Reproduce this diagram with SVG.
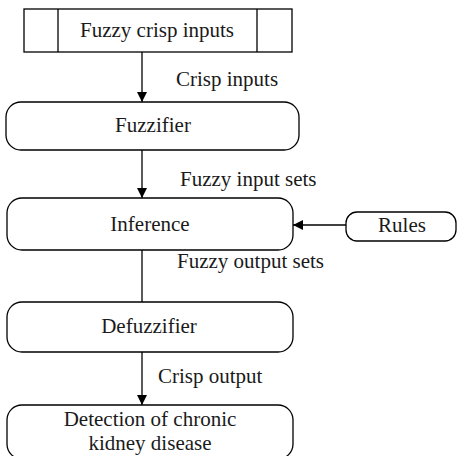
<svg xmlns="http://www.w3.org/2000/svg" width="457" height="456" viewBox="0 0 457 456">
<style>
.b{fill:#fff;stroke:#000;stroke-width:1.3}
.t{font-family:"Liberation Serif","Times New Roman",serif;font-size:21px;fill:#1a1a1a}
.c{text-anchor:middle}
.l{fill:none;stroke:#000;stroke-width:1.3}
</style>
<defs>
<marker id="ah" viewBox="0 0 10 10" refX="10" refY="5" markerWidth="10" markerHeight="10" markerUnits="userSpaceOnUse" orient="auto">
<path d="M0,0 L10,5 L0,10 Z" fill="#000"/>
</marker>
</defs>
<g id="connectors">
<line class="l" x1="142" y1="52" x2="142" y2="102" marker-end="url(#ah)"/>
<line class="l" x1="142" y1="150" x2="142" y2="198" marker-end="url(#ah)"/>
<line class="l" x1="142" y1="250" x2="142" y2="302"/>
<line class="l" x1="142" y1="352" x2="142" y2="405" marker-end="url(#ah)"/>
<line class="l" x1="346" y1="225" x2="293" y2="225" marker-end="url(#ah)"/>
<text class="t" x="176" y="86">Crisp inputs</text>
<text class="t" x="180" y="186">Fuzzy input sets</text>
<text class="t" x="177" y="268">Fuzzy output sets</text>
<text class="t" x="158" y="383">Crisp output</text>
</g>
<g id="inputs">
<rect class="b" x="24" y="9" width="268" height="43"/>
<line class="l" x1="58" y1="9" x2="58" y2="52"/>
<line class="l" x1="257" y1="9" x2="257" y2="52"/>
<text class="t c" x="157" y="37">Fuzzy crisp inputs</text>
</g>
<g id="fuzzifier">
<rect class="b" x="6" y="102" width="293" height="48" rx="15"/>
<text class="t c" x="153" y="132">Fuzzifier</text>
</g>
<g id="inference">
<rect class="b" x="7" y="198" width="286" height="52" rx="15"/>
<text class="t c" x="150" y="231">Inference</text>
</g>
<g id="rules">
<rect class="b" x="346" y="212" width="110" height="29" rx="11"/>
<text class="t c" x="402" y="232">Rules</text>
</g>
<g id="defuzzifier">
<rect class="b" x="7" y="302" width="286" height="50" rx="15"/>
<text class="t c" x="149" y="333">Defuzzifier</text>
</g>
<g id="detection">
<rect class="b" x="7" y="405" width="286" height="54" rx="15"/>
<text class="t c" x="150" y="426">Detection of chronic</text>
<text class="t c" x="150" y="450">kidney disease</text>
</g>
</svg>
